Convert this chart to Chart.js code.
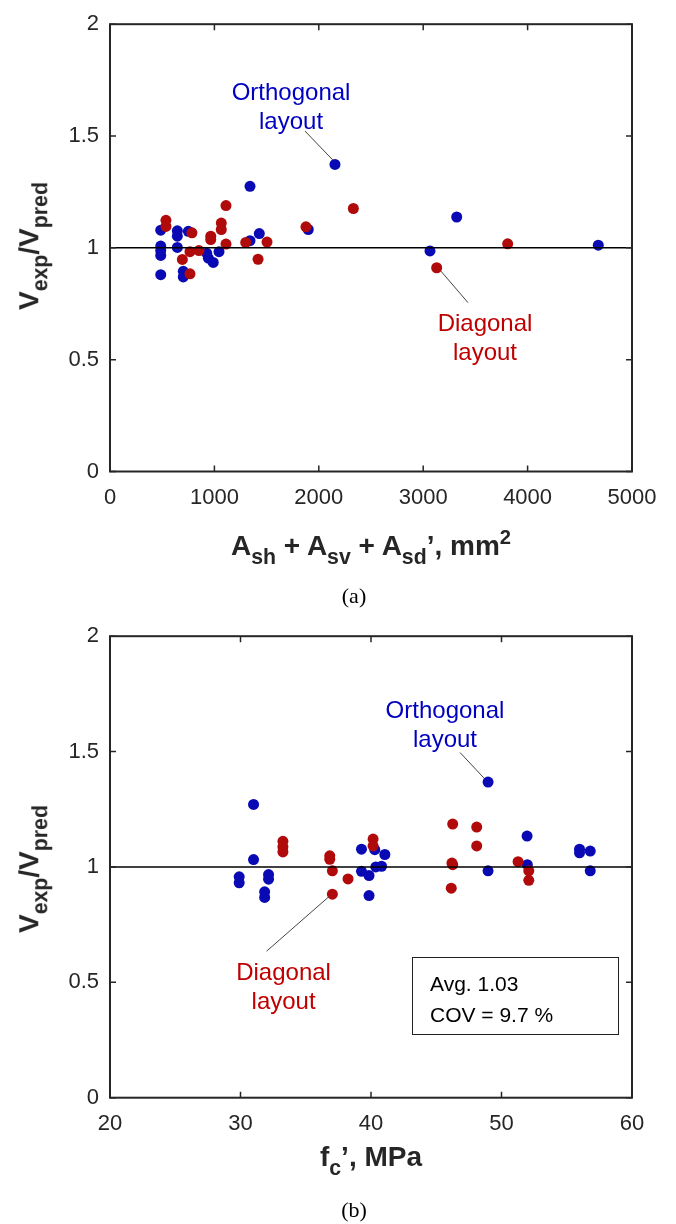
<!DOCTYPE html>
<html>
<head>
<meta charset="utf-8">
<script src="https://cdn.jsdelivr.net/npm/chart.js@4.4.1/dist/chart.umd.min.js"></script>
<style>
    body { margin: 0; width: 676px; height: 1224px; position: relative; background: #fff; overflow: hidden;
           font-family: "Liberation Sans", Arial, sans-serif; color: #262626; }
    canvas { position: absolute; left: 0; }
    #area-chart { top: 0; }
    #fc-chart { top: 612px; }
    .xtitle { position: absolute; transform: translate(-50%, -50%); white-space: nowrap; font-weight: bold; font-size: 28px; }
    .ytitle { position: absolute; transform: translate(-50%, -50%) rotate(-90deg); white-space: nowrap; font-weight: bold; font-size: 28px; }
    .xtitle sub, .ytitle sub { font-size: 0.76em; vertical-align: -0.4em; }
    .xtitle sup { font-size: 0.72em; vertical-align: 0.55em; }
    .caption { position: absolute; transform: translate(-50%, -50%); font-family: "Liberation Serif", "Times New Roman", serif; font-size: 22px; color: #000; }
    .stats { position: absolute; left: 412px; top: 957px; width: 207px; height: 78px; border: 1.5px solid #222;
             font-size: 21px; line-height: 31px; padding: 10px 0 0 17px; box-sizing: border-box; color: #000; }
</style>
</head>
<body>
<canvas id="area-chart" width="676" height="612"></canvas>
<canvas id="fc-chart" width="676" height="612"></canvas>

<div class="ytitle" style="left:33px; top:246px">V<sub>exp</sub>/V<sub>pred</sub></div>
<div class="xtitle" style="left:371px; top:548px">A<sub>sh</sub> + A<sub>sv</sub> + A<sub>sd</sub>&rsquo;, mm<sup>2</sup></div>
<div class="caption" style="left:354px; top:596px">(a)</div>

<div class="ytitle" style="left:33px; top:869px">V<sub>exp</sub>/V<sub>pred</sub></div>
<div class="xtitle" style="left:371px; top:1161px">f<sub>c</sub>&rsquo;, MPa</div>
<div class="caption" style="left:354px; top:1210px">(b)</div>

<div class="stats">Avg. 1.03<br>COV = 9.7 %</div>

<script>
// (a) total reinforcement area, mm2
const areaOrthX = [486, 486, 486, 486, 486, 645, 645, 645, 750, 702, 702, 926, 942, 989, 1044, 1341, 1341, 1430, 1899, 2155, 3065, 3321, 4677];
const areaOrthY = [1.079, 1.008, 0.988, 0.966, 0.880, 1.076, 1.052, 1.002, 1.074, 0.895, 0.870, 0.976, 0.954, 0.935, 0.983, 1.032, 1.275, 1.064, 1.082, 1.373, 0.986, 1.138, 1.012];
const areaDiagX = [536, 536, 785, 766, 852, 693, 766, 965, 965, 1066, 1066, 1111, 1111, 1300, 1418, 1504, 1877, 2331, 3129, 3809];
const areaDiagY = [1.123, 1.096, 1.067, 0.983, 0.988, 0.948, 0.884, 1.052, 1.037, 1.111, 1.082, 1.189, 1.017, 1.024, 0.949, 1.026, 1.094, 1.176, 0.911, 1.018];

// (b) concrete strength, MPa
const fcOrthX = [31.0, 31.0, 29.9, 29.9, 32.15, 32.15, 31.85, 31.85, 39.27, 39.27, 39.85, 39.85, 40.29, 41.06, 40.37, 40.81, 48.97, 48.97, 51.96, 51.98, 55.98, 55.98, 56.8, 56.8];
const fcOrthY = [1.271, 1.032, 0.957, 0.931, 0.967, 0.947, 0.892, 0.868, 1.077, 0.981, 0.963, 0.876, 1.075, 1.054, 1.000, 1.003, 1.368, 0.983, 1.134, 1.010, 1.077, 1.061, 1.069, 0.983];
const fcDiagX = [33.25, 33.25, 33.25, 36.84, 36.84, 37.04, 38.24, 37.04, 40.16, 40.16, 46.26, 48.1, 48.1, 46.2, 46.26, 46.15, 51.27, 52.09, 52.09];
const fcDiagY = [1.111, 1.087, 1.065, 1.048, 1.033, 0.983, 0.948, 0.882, 1.121, 1.091, 1.186, 1.173, 1.091, 1.017, 1.010, 0.908, 1.023, 0.983, 0.942];

const areaTicks = [0, 1000, 2000, 3000, 4000, 5000];
const fcTicks = [20, 30, 40, 50, 60];
const ratioTicks = [0, 0.5, 1, 1.5, 2];
const unityRatio = 1;

const BLUE = '#0a0ab4';
const RED = '#b00a0a';
const INK = '#262626';

Chart.defaults.font.family = '"Liberation Sans", Arial, sans-serif';
Chart.defaults.color = INK;

const toPoints = (xs, ys) => xs.map((x, i) => ({ x: x, y: ys[i] }));

// box around the plot, inward tick marks and the leader-line notes
const framePlugin = {
    id: 'frame',
    afterDatasetsDraw(chart, args, opts) {
        const { ctx, chartArea: a, scales: { x, y } } = chart;
        ctx.save();
        ctx.strokeStyle = INK;
        ctx.lineWidth = 2;
        ctx.strokeRect(a.left, a.top, a.width, a.height);

        ctx.lineWidth = 1.5;
        ctx.beginPath();
        x.ticks.forEach(t => {
            const px = x.getPixelForValue(t.value);
            ctx.moveTo(px, a.bottom); ctx.lineTo(px, a.bottom - 6);
            ctx.moveTo(px, a.top); ctx.lineTo(px, a.top + 6);
        });
        y.ticks.forEach(t => {
            const py = y.getPixelForValue(t.value);
            ctx.moveTo(a.left, py); ctx.lineTo(a.left + 6, py);
            ctx.moveTo(a.right, py); ctx.lineTo(a.right - 6, py);
        });
        ctx.stroke();

        (opts.notes || []).forEach(n => {
            ctx.strokeStyle = '#444';
            ctx.lineWidth = 1;
            ctx.beginPath();
            ctx.moveTo(x.getPixelForValue(n.from[0]), y.getPixelForValue(n.from[1]));
            ctx.lineTo(x.getPixelForValue(n.to[0]), y.getPixelForValue(n.to[1]));
            ctx.stroke();

            ctx.fillStyle = n.color;
            ctx.font = '24px "Liberation Sans", Arial, sans-serif';
            ctx.textAlign = 'center';
            ctx.textBaseline = 'alphabetic';
            const cx = x.getPixelForValue(n.at[0]);
            const cy = y.getPixelForValue(n.at[1]);
            n.text.forEach((line, i) => ctx.fillText(line, cx, cy + i * 29));
        });
        ctx.restore();
    }
};

function makeChart(id, cfg) {
    const ctx = document.getElementById(id);
    return new Chart(ctx, {
        type: 'scatter',
        data: {
            datasets: [
                {
                    type: 'line',
                    data: [{ x: cfg.xTicks[0], y: unityRatio }, { x: cfg.xTicks[cfg.xTicks.length - 1], y: unityRatio }],
                    borderColor: '#000',
                    borderWidth: 1.5,
                    pointRadius: 0,
                    order: 0
                },
                { data: cfg.diag, backgroundColor: RED, pointRadius: 5.5, borderWidth: 0, order: 1 },
                { data: cfg.orth, backgroundColor: BLUE, pointRadius: 5.5, borderWidth: 0, order: 2 }
            ]
        },
        options: {
            responsive: false,
            animation: false,
            devicePixelRatio: 1,
            layout: { padding: { top: cfg.top, right: 44, left: 0, bottom: 0 } },
            plugins: {
                legend: { display: false },
                tooltip: { enabled: false },
                frame: { notes: cfg.notes }
            },
            scales: {
                x: {
                    type: 'linear',
                    min: cfg.xTicks[0],
                    max: cfg.xTicks[cfg.xTicks.length - 1],
                    afterBuildTicks: s => { s.ticks = cfg.xTicks.map(v => ({ value: v })); },
                    afterFit: s => { s.height = cfg.xHeight; },
                    grid: { display: false, drawTicks: false },
                    border: { display: false },
                    ticks: { font: { size: 22 }, padding: 13, maxRotation: 0, callback: v => String(v) }
                },
                y: {
                    type: 'linear',
                    min: 0,
                    max: 2,
                    afterBuildTicks: s => { s.ticks = ratioTicks.map(v => ({ value: v })); },
                    afterFit: s => { s.width = 110; },
                    grid: { display: false, drawTicks: false },
                    border: { display: false },
                    ticks: { font: { size: 22 }, padding: 11, callback: v => String(v) }
                }
            }
        },
        plugins: [framePlugin]
    });
}

makeChart('area-chart', {
    xTicks: areaTicks,
    orth: toPoints(areaOrthX, areaOrthY),
    diag: toPoints(areaDiagX, areaDiagY),
    top: 17.5,
    xHeight: 140.5,
    notes: [
        { text: ['Orthogonal', 'layout'], color: '#0000c0', at: [1734, 1.659], from: [1868, 1.522], to: [2136, 1.392] },
        { text: ['Diagonal', 'layout'], color: '#c00000', at: [3592, 0.628], from: [3170, 0.896], to: [3429, 0.755] }
    ]
});

makeChart('fc-chart', {
    xTicks: fcTicks,
    orth: toPoints(fcOrthX, fcOrthY),
    diag: toPoints(fcDiagX, fcDiagY),
    top: 23.7,
    xHeight: 126.3,
    notes: [
        { text: ['Orthogonal', 'layout'], color: '#0000c0', at: [45.67, 1.644], from: [46.82, 1.496], to: [48.66, 1.385] },
        { text: ['Diagonal', 'layout'], color: '#c00000', at: [33.3, 0.510], from: [32.0, 0.635], to: [36.75, 0.870] }
    ]
});
</script>
</body>
</html>
